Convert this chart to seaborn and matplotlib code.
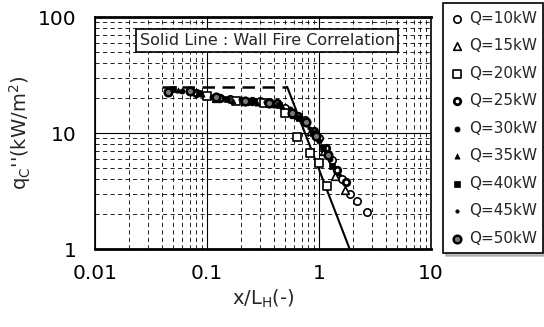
import seaborn as sns
import matplotlib.pyplot as plt
import matplotlib.ticker as mticker
import pandas as pd
import numpy as np

# heat flux data: x/LH (-) and qc'' (kW/m2)
labels = ["Q=10kW", "Q=15kW", "Q=20kW", "Q=25kW", "Q=30kW",
          "Q=35kW", "Q=40kW", "Q=45kW", "Q=50kW"]

x_q10 = [0.16, 0.3, 0.5, 0.75, 1.0, 1.3, 1.6, 1.9, 2.2, 2.7]
q_q10 = [19.5, 19, 16.5, 13, 9, 5.8, 4.0, 3.0, 2.6, 2.1]
x_q15 = [0.12, 0.22, 0.38, 0.6, 0.85, 1.1, 1.4, 1.7]
q_q15 = [20, 19, 18, 14.5, 10.5, 7, 4.3, 3.2]
x_q20 = [0.1, 0.18, 0.32, 0.5, 0.64, 0.83, 1.0, 1.17]
q_q20 = [21, 19, 18, 15, 9.3, 6.7, 5.5, 3.5]
x_q25 = [0.08, 0.13, 0.25, 0.42, 0.65, 0.9, 1.15, 1.45, 1.75]
q_q25 = [22, 20, 19, 18, 14, 10.5, 7.5, 4.8, 3.8]
x_q30 = [0.06, 0.11, 0.2, 0.34, 0.55, 0.78, 1.0, 1.25]
q_q30 = [23, 20.5, 19.5, 18.5, 16, 12, 8.5, 6]
x_q35 = [0.055, 0.09, 0.17, 0.28, 0.47, 0.7, 0.92, 1.15, 1.5]
q_q35 = [23.5, 21.5, 19, 18, 17, 13, 9.5, 6.8, 4.5]
x_q40 = [0.05, 0.085, 0.15, 0.26, 0.44, 0.67, 0.88, 1.08, 1.3]
q_q40 = [24, 22, 19.5, 19, 17.5, 13.5, 10, 7.5, 5.2]
x_q45 = [0.048, 0.075, 0.14, 0.24, 0.4, 0.62, 0.82, 1.05]
q_q45 = [23, 22.5, 20, 18.5, 17, 14, 11, 7.8]
x_q50 = [0.045, 0.07, 0.12, 0.22, 0.36, 0.58, 0.76, 0.95, 1.2]
q_q50 = [22.5, 23, 20.5, 19, 18, 15, 12.5, 9.5, 6.5]

# wall fire correlation
corr_x_dash = [0.04, 0.52]
corr_q_dash = [25, 25]
corr_x_solid = [0.52, 1.88]
corr_q_solid = [25, 1]

xs = [x_q10, x_q15, x_q20, x_q25, x_q30, x_q35, x_q40, x_q45, x_q50]
qs = [q_q10, q_q15, q_q20, q_q25, q_q30, q_q35, q_q40, q_q45, q_q50]

# marker style per series: marker, size, face, edge width
styles = [("o", 28, "white", 1.2),
          ("^", 30, "white", 1.2),
          ("s", 30, "white", 1.2),
          ("o", 22, "white", 2.0),
          ("o", 14, "black", 0.5),
          ("^", 14, "black", 0.5),
          ("s", 22, "black", 0.5),
          ("o", 6, "black", 0.5),
          ("o", 30, "#777777", 1.8)]

sns.set_style("white")
plt.rcParams["font.family"] = ["DejaVu Sans"]

fig = plt.figure(figsize=(5.44, 3.27), dpi=100)
ax = fig.add_axes([0.1746, 0.2385, 0.6176, 0.7095])

ax.set_xscale("log")
ax.set_yscale("log")
ax.set_xlim(0.01, 10)
ax.set_ylim(1, 100)

ax.grid(which="major", color="black", lw=0.8, ls="-")
ax.grid(which="minor", color="black", lw=0.6, ls=(0, (5, 4)))
ax.set_axisbelow(True)

for x, q, lab, (m, s, fc, lw) in zip(xs, qs, labels, styles):
    df = pd.DataFrame({"x": x, "q": q})
    sns.scatterplot(data=df, x="x", y="q", ax=ax, marker=m, s=s,
                    facecolor=fc, edgecolor="black", linewidth=lw,
                    label=lab, zorder=3)

ax.plot(corr_x_dash, corr_q_dash, color="black", lw=1.8, ls=(0, (5, 3)), zorder=2)
ax.plot(corr_x_solid, corr_q_solid, color="black", lw=1.5, zorder=2)

ax.text(0.512, 0.897, "Solid Line : Wall Fire Correlation", transform=ax.transAxes,
        ha="center", va="center", fontsize=11.5,
        bbox=dict(boxstyle="square,pad=0.25", fc="white", ec="black", lw=1.2))

ax.xaxis.set_major_formatter(mticker.FuncFormatter(lambda v, p: f"{v:g}"))
ax.yaxis.set_major_formatter(mticker.FuncFormatter(lambda v, p: f"{v:g}"))
ax.xaxis.set_minor_formatter(mticker.NullFormatter())
ax.yaxis.set_minor_formatter(mticker.NullFormatter())
ax.tick_params(which="both", length=0, labelsize=14.5, colors="black")
ax.tick_params(axis="x", pad=11)
ax.tick_params(axis="y", pad=13)

for side in ["top", "bottom"]:
    ax.spines[side].set_linewidth(2.0)
for side in ["left", "right"]:
    ax.spines[side].set_linewidth(1.2)
for sp in ax.spines.values():
    sp.set_color("black")

ax.set_xlabel("x/L$_\\mathregular{H}$(-)", fontsize=14, labelpad=3)
ax.set_ylabel("q$_\\mathregular{C}$''(kW/m$^\\mathregular{2}$)", fontsize=14, labelpad=4)

leg = ax.legend(loc="upper left", bbox_to_anchor=(0.814, 0.239, 0.184, 0.752),
                bbox_transform=fig.transFigure, mode="expand", fontsize=11,
                frameon=True, fancybox=False, shadow={"color": "#999999", "alpha": 0.6},
                handletextpad=0.3, handlelength=0.9, borderaxespad=0,
                labelspacing=0.82, borderpad=0.5)
leg.get_frame().set_edgecolor("black")
leg.get_frame().set_linewidth(1.2)

fig.savefig("out.png", dpi=100)
